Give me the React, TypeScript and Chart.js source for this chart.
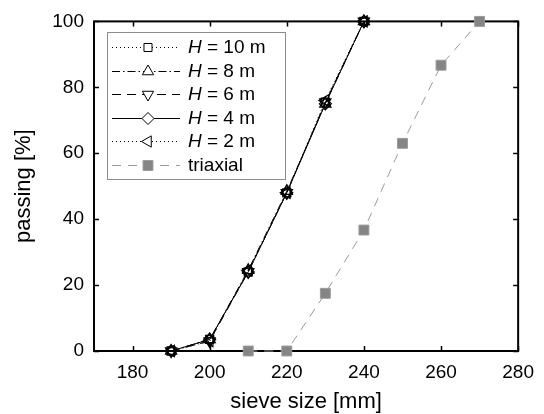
import React, { useEffect, useRef } from 'react';
import { Chart, registerables } from 'chart.js';

Chart.register(...registerables);

const sieveSizes = [190, 200, 210, 220, 230, 240];
const passingH10 = [0, 3.5, 24, 48, 75.5, 100];
const passingH8 = [0, 3.5, 24.5, 48.5, 75, 100];
const passingH6 = [0, 3, 24, 48, 75.5, 100];
const passingH4 = [0, 3.5, 24, 48, 75, 100];
const passingH2 = [0, 3, 24.5, 48, 76, 100];
const triaxialSizes = [210, 220, 230, 240, 250, 260, 270];
const passingTriaxial = [0, 0, 17.5, 36.7, 63, 86.7, 100];
const xTickValues = [180, 200, 220, 240, 260, 280];
const yTickValues = [0, 20, 40, 60, 80, 100];
const heightLabels = ['10', '8', '6', '4', '2'];
const xTitle = 'sieve size [mm]';
const yTitle = 'passing [%]';
const triaxialLabel = 'triaxial';

const FONT = "'Liberation Sans', Arial, sans-serif";

type Style = {
  dash: number[];
  pointStyle: string;
  rotation: number;
  radius: number;
};

const hStyles: Style[] = [
  { dash: [1, 3], pointStyle: 'rect', rotation: 0, radius: 5.7 },
  { dash: [8, 3, 1.5, 3], pointStyle: 'triangle', rotation: 0, radius: 6.5 },
  { dash: [9, 6], pointStyle: 'triangle', rotation: 180, radius: 6.5 },
  { dash: [], pointStyle: 'rectRot', rotation: 0, radius: 6 },
  { dash: [1, 3], pointStyle: 'triangle', rotation: -90, radius: 6.5 },
];

const hSeries = [passingH10, passingH8, passingH6, passingH4, passingH2];

function drawMarker(
  ctx: CanvasRenderingContext2D,
  style: string,
  rotation: number,
  x: number,
  y: number,
  r: number,
  fill: string | null,
  stroke: string
) {
  ctx.beginPath();
  if (style === 'rect') {
    const s = r * Math.SQRT1_2;
    ctx.rect(x - s, y - s, 2 * s, 2 * s);
  } else if (style === 'rectRot') {
    ctx.moveTo(x, y - r);
    ctx.lineTo(x + r, y);
    ctx.lineTo(x, y + r);
    ctx.lineTo(x - r, y);
    ctx.closePath();
  } else {
    let a = (rotation * Math.PI) / 180;
    ctx.moveTo(x + Math.sin(a) * r, y - Math.cos(a) * r);
    a += (2 * Math.PI) / 3;
    ctx.lineTo(x + Math.sin(a) * r, y - Math.cos(a) * r);
    a += (2 * Math.PI) / 3;
    ctx.lineTo(x + Math.sin(a) * r, y - Math.cos(a) * r);
    ctx.closePath();
  }
  if (fill) {
    ctx.fillStyle = fill;
    ctx.fill();
  }
  ctx.strokeStyle = stroke;
  ctx.lineWidth = 1;
  ctx.setLineDash([]);
  ctx.stroke();
}

const framePlugin = {
  id: 'frameAndLegend',
  beforeDatasetsDraw(chart: any) {
    const { ctx, chartArea } = chart;
    const { left, right, top, bottom } = chartArea;
    const xs = chart.scales.x;
    const ys = chart.scales.y;
    ctx.save();
    ctx.strokeStyle = '#000';
    ctx.lineWidth = 1.5;
    ctx.setLineDash([]);
    const tl = 5;
    ctx.beginPath();
    for (const v of xTickValues) {
      const px = Math.round(xs.getPixelForValue(v)) + 0.5;
      ctx.moveTo(px, bottom);
      ctx.lineTo(px, bottom - tl);
      ctx.moveTo(px, top);
      ctx.lineTo(px, top + tl);
    }
    for (const v of yTickValues) {
      const py = Math.round(ys.getPixelForValue(v)) + 0.5;
      ctx.moveTo(left, py);
      ctx.lineTo(left + tl, py);
      ctx.moveTo(right, py);
      ctx.lineTo(right - tl, py);
    }
    ctx.stroke();
    ctx.lineWidth = 2;
    ctx.strokeRect(left, top, right - left, bottom - top);

    // axis titles
    ctx.fillStyle = '#000';
    ctx.font = `22px ${FONT}`;
    ctx.textAlign = 'center';
    ctx.textBaseline = 'alphabetic';
    ctx.fillText(xTitle, (left + right) / 2, 408);
    ctx.save();
    ctx.translate(30, (top + bottom) / 2);
    ctx.rotate(-Math.PI / 2);
    ctx.textBaseline = 'alphabetic';
    ctx.fillText(yTitle, 0, 0);
    ctx.restore();
    ctx.restore();
  },
  afterDraw(chart: any) {
    const { ctx } = chart;
    ctx.save();
    const bx = 107;
    const by = 32;
    const bw = 178;
    const bh = 147;
    ctx.fillStyle = '#fff';
    ctx.fillRect(bx, by, bw, bh);
    ctx.strokeStyle = '#8c8c8c';
    ctx.lineWidth = 1;
    ctx.setLineDash([]);
    ctx.strokeRect(bx + 0.5, by + 0.5, bw, bh);

    const rowY = (i: number) => 47 + i * 23.6;
    const lx0 = 112;
    const lx1 = 180;
    const mx = 148;
    const tx = 188;
    ctx.font = `19px ${FONT}`;
    ctx.textBaseline = 'middle';
    ctx.textAlign = 'left';
    for (let i = 0; i < hStyles.length; i++) {
      const st = hStyles[i];
      const y = Math.round(rowY(i)) + 0.5;
      ctx.strokeStyle = '#000';
      ctx.lineWidth = 1;
      ctx.setLineDash(st.dash);
      ctx.beginPath();
      ctx.moveTo(lx0, y);
      ctx.lineTo(lx1, y);
      ctx.stroke();
      drawMarker(ctx, st.pointStyle, st.rotation, mx, y, st.radius, '#fff', '#000');
      ctx.fillStyle = '#000';
      ctx.font = `italic 19px ${FONT}`;
      ctx.fillText('H', tx, y);
      const w = ctx.measureText('H').width;
      ctx.font = `19px ${FONT}`;
      ctx.fillText(` = ${heightLabels[i]} m`, tx + w, y);
    }
    const y = Math.round(rowY(5)) + 0.5;
    ctx.strokeStyle = '#9a9a9a';
    ctx.lineWidth = 1;
    ctx.setLineDash([9, 7]);
    ctx.beginPath();
    ctx.moveTo(lx0, y);
    ctx.lineTo(lx1, y);
    ctx.stroke();
    drawMarker(ctx, 'rect', 0, mx, y, 7, '#858585', '#9a9a9a');
    ctx.fillStyle = '#000';
    ctx.font = `19px ${FONT}`;
    ctx.fillText(triaxialLabel, tx, y);
    ctx.restore();
  },
};

export default function App() {
  const ref = useRef<HTMLCanvasElement | null>(null);

  useEffect(() => {
    document.body.style.margin = '0';
    const canvas = ref.current;
    if (!canvas) return;

    const datasets: any[] = hSeries.map((vals, i) => ({
      label: `H = ${heightLabels[i]} m`,
      data: sieveSizes.map((x, j) => ({ x, y: vals[j] })),
      borderColor: '#000',
      borderWidth: 1,
      borderDash: hStyles[i].dash,
      pointStyle: hStyles[i].pointStyle,
      pointRotation: hStyles[i].rotation,
      pointRadius: hStyles[i].radius,
      pointBorderWidth: 1.2,
      pointBorderColor: '#000',
      pointBackgroundColor: 'rgba(0,0,0,0)',
      showLine: true,
      clip: false,
    }));
    datasets.push({
      label: triaxialLabel,
      data: triaxialSizes.map((x, j) => ({ x, y: passingTriaxial[j] })),
      borderColor: '#9a9a9a',
      borderWidth: 1,
      borderDash: [9, 7],
      pointStyle: 'rect',
      pointRadius: 7,
      pointBorderWidth: 1,
      pointBorderColor: '#9a9a9a',
      pointBackgroundColor: '#858585',
      showLine: true,
      clip: false,
    });

    const chart = new Chart(canvas, {
      type: 'scatter',
      data: { datasets },
      options: {
        animation: false,
        responsive: false,
        devicePixelRatio: 1,
        layout: { padding: { left: 0, top: 21, right: 19, bottom: 0 } },
        plugins: { legend: { display: false }, tooltip: { enabled: false } },
        scales: {
          x: {
            type: 'linear',
            min: 170,
            max: 280,
            grid: { display: false, drawTicks: false },
            border: { display: false },
            ticks: {
              color: '#000',
              font: { family: FONT, size: 19 },
              padding: 10,
              maxRotation: 0,
            },
            afterBuildTicks: (scale: any) => {
              scale.ticks = xTickValues.map((v) => ({ value: v }));
            },
            afterFit: (scale: any) => {
              scale.height = 63;
            },
          },
          y: {
            type: 'linear',
            min: 0,
            max: 100,
            grid: { display: false, drawTicks: false },
            border: { display: false },
            ticks: {
              color: '#000',
              font: { family: FONT, size: 19 },
              padding: 10,
            },
            afterBuildTicks: (scale: any) => {
              scale.ticks = yTickValues.map((v) => ({ value: v }));
            },
            afterFit: (scale: any) => {
              scale.width = 94;
            },
          },
        },
      },
      plugins: [framePlugin],
    } as any);

    return () => chart.destroy();
  }, []);

  return (
    <div style={{ position: 'absolute', left: 0, top: 0, width: 544, height: 414, background: '#fff' }}>
      <canvas ref={ref} width={544} height={414} style={{ width: 544, height: 414, display: 'block' }} />
    </div>
  );
}
